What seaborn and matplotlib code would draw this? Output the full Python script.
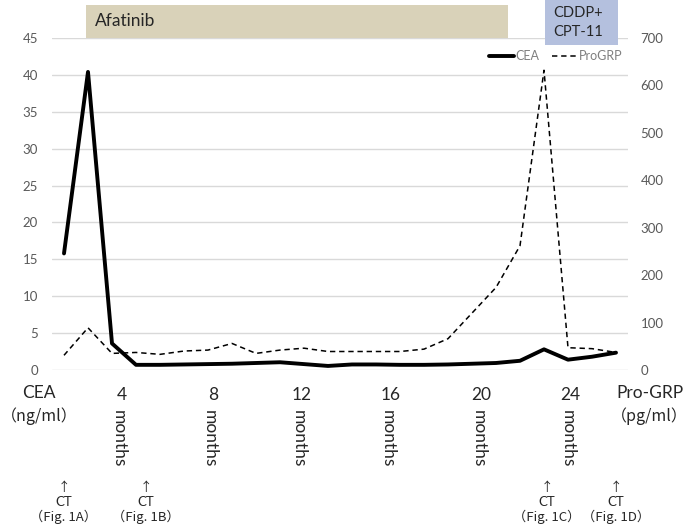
import matplotlib
matplotlib.use('Agg')
import matplotlib.pyplot as plt
import matplotlib.transforms as mtransforms
from matplotlib.patches import Rectangle
import pandas as pd
import seaborn as sns

# values, one point per month
months = list(range(24))
cea = [15.8, 40.4, 3.6, 0.7, 0.7, 0.75, 0.8, 0.85, 0.95, 1.05, 0.8, 0.55,
       0.75, 0.75, 0.7, 0.7, 0.75, 0.85, 0.95, 1.25, 2.8, 1.4, 1.8, 2.35]
progrp = [31, 89, 35, 37, 33, 40, 42, 56, 35, 42, 46, 39,
          39, 39, 39, 44, 66, 120, 174, 262, 632, 47, 45, 37]

# x-axis labels ("N months") and where they sit on the month scale
month_ticks = [2.4, 6.2, 9.9, 13.6, 17.4, 21.1]
month_labels = ['4', '8', '12', '16', '20', '24']

# CT scans and treatment periods
ct_pos = [0, 3.4, 20.1, 23.0]
ct_labels = ['Fig. 1A', 'Fig. 1B', 'Fig. 1C', 'Fig. 1D']
treat_names = ['Afatinib', 'CDDP+\nCPT-11']
treat_start = [0.92, 20.05]
treat_end = [18.5, 23.1]
treat_colors = ['#d9d2b9', '#b4c0de']

df = pd.DataFrame({'month': months, 'CEA': cea, 'ProGRP': progrp})

sns.set_style('white')
plt.rcParams['font.family'] = ['Lato', 'Noto Sans CJK JP', 'DejaVu Sans']
jp = ['Noto Sans CJK JP', 'DejaVu Sans']

W, H = 688, 525
fig = plt.figure(figsize=(W / 100, H / 100), dpi=100)
ax = fig.add_axes([52 / W, 1 - 370 / H, 576 / W, 332 / H])
ax2 = ax.twinx()

sns.lineplot(data=df, x='month', y='CEA', ax=ax, color='black', linewidth=2.8, label='CEA')
sns.lineplot(data=df, x='month', y='ProGRP', ax=ax2, color='black', linewidth=1.1,
             linestyle=(0, (3.5, 2.5)), label='ProGRP')

ax.set_xlim(-0.5, 23.5)
ax.set_ylim(0, 45)
ax2.set_ylim(0, 700)
ax.set_yticks(range(0, 46, 5))
ax2.set_yticks(range(0, 701, 100))
ax.yaxis.grid(True, color='#d9d9d9', linewidth=1)
ax.set_axisbelow(True)
for a in (ax, ax2):
    for s in a.spines.values():
        s.set_visible(False)
    a.set_xlabel('')
    a.set_ylabel('')
ax.tick_params(axis='y', length=0, pad=10, labelsize=9.5, labelcolor='#595959')
ax2.tick_params(axis='y', length=0, pad=9, labelsize=9.5, labelcolor='#595959')

# month labels: upright number, then "months" written vertically
ax.set_xticks(month_ticks)
ax.set_xticklabels(month_labels, fontsize=12.5)
ax.tick_params(axis='x', length=0, pad=12)
xf = mtransforms.blended_transform_factory(ax.transData, fig.transFigure)
for m in month_ticks:
    ax.text(m - 0.12, 1 - 410 / H, 'months', transform=xf, rotation=270,
            ha='center', va='top', fontsize=12.5)

# axis titles
fig.text(39 / W, 1 - 393 / H, 'CEA', ha='center', va='center', fontsize=12.5)
fig.text(39 / W, 1 - 416 / H, '（ng/ml）', ha='center', va='center', fontsize=11.5, family=jp)
fig.text(650 / W, 1 - 393 / H, 'Pro-GRP', ha='center', va='center', fontsize=12.5)
fig.text(649 / W, 1 - 416 / H, '（pg/ml）', ha='center', va='center', fontsize=11.5, family=jp)

# CT annotations
for p, lab in zip(ct_pos, ct_labels):
    ax.text(p, 1 - 487 / H, '↑', transform=xf, ha='center', va='center', fontsize=9, family=jp)
    ax.text(p, 1 - 502 / H, 'CT', transform=xf, ha='center', va='center', fontsize=9.5)
    ax.text(p, 1 - 517 / H, '（' + lab + '）', transform=xf, ha='center', va='center',
            fontsize=9.5, family=jp)

# treatment boxes above the plot
box_top = [1 - 5 / H, 1.0]
box_bot = [1 - 38 / H, 1 - 45 / H]
for name, s, e, c, t, b in zip(treat_names, treat_start, treat_end, treat_colors, box_top, box_bot):
    ax.add_patch(Rectangle((s, b), e - s, t - b, transform=xf, facecolor=c,
                           edgecolor='none', clip_on=False, zorder=5))
    ax.text(s + 0.35, (t + b) / 2, name, transform=xf, ha='left', va='center',
            fontsize=12.5 if name == 'Afatinib' else 10.5, zorder=6, linespacing=1.5)

# legend
h1, l1 = ax.get_legend_handles_labels()
h2, l2 = ax2.get_legend_handles_labels()
ax.get_legend().remove()
ax2.get_legend().remove()
leg = ax2.legend(h1 + h2, l1 + l2, loc='center right', bbox_to_anchor=(634 / W, 1 - 56 / H),
                 bbox_transform=fig.transFigure, ncol=2, frameon=False, fontsize=9,
                 handlelength=2.0, handletextpad=0.15, columnspacing=1.0)
for t in leg.get_texts():
    t.set_color('#7f7f7f')

fig.savefig('out.png', dpi=100)
